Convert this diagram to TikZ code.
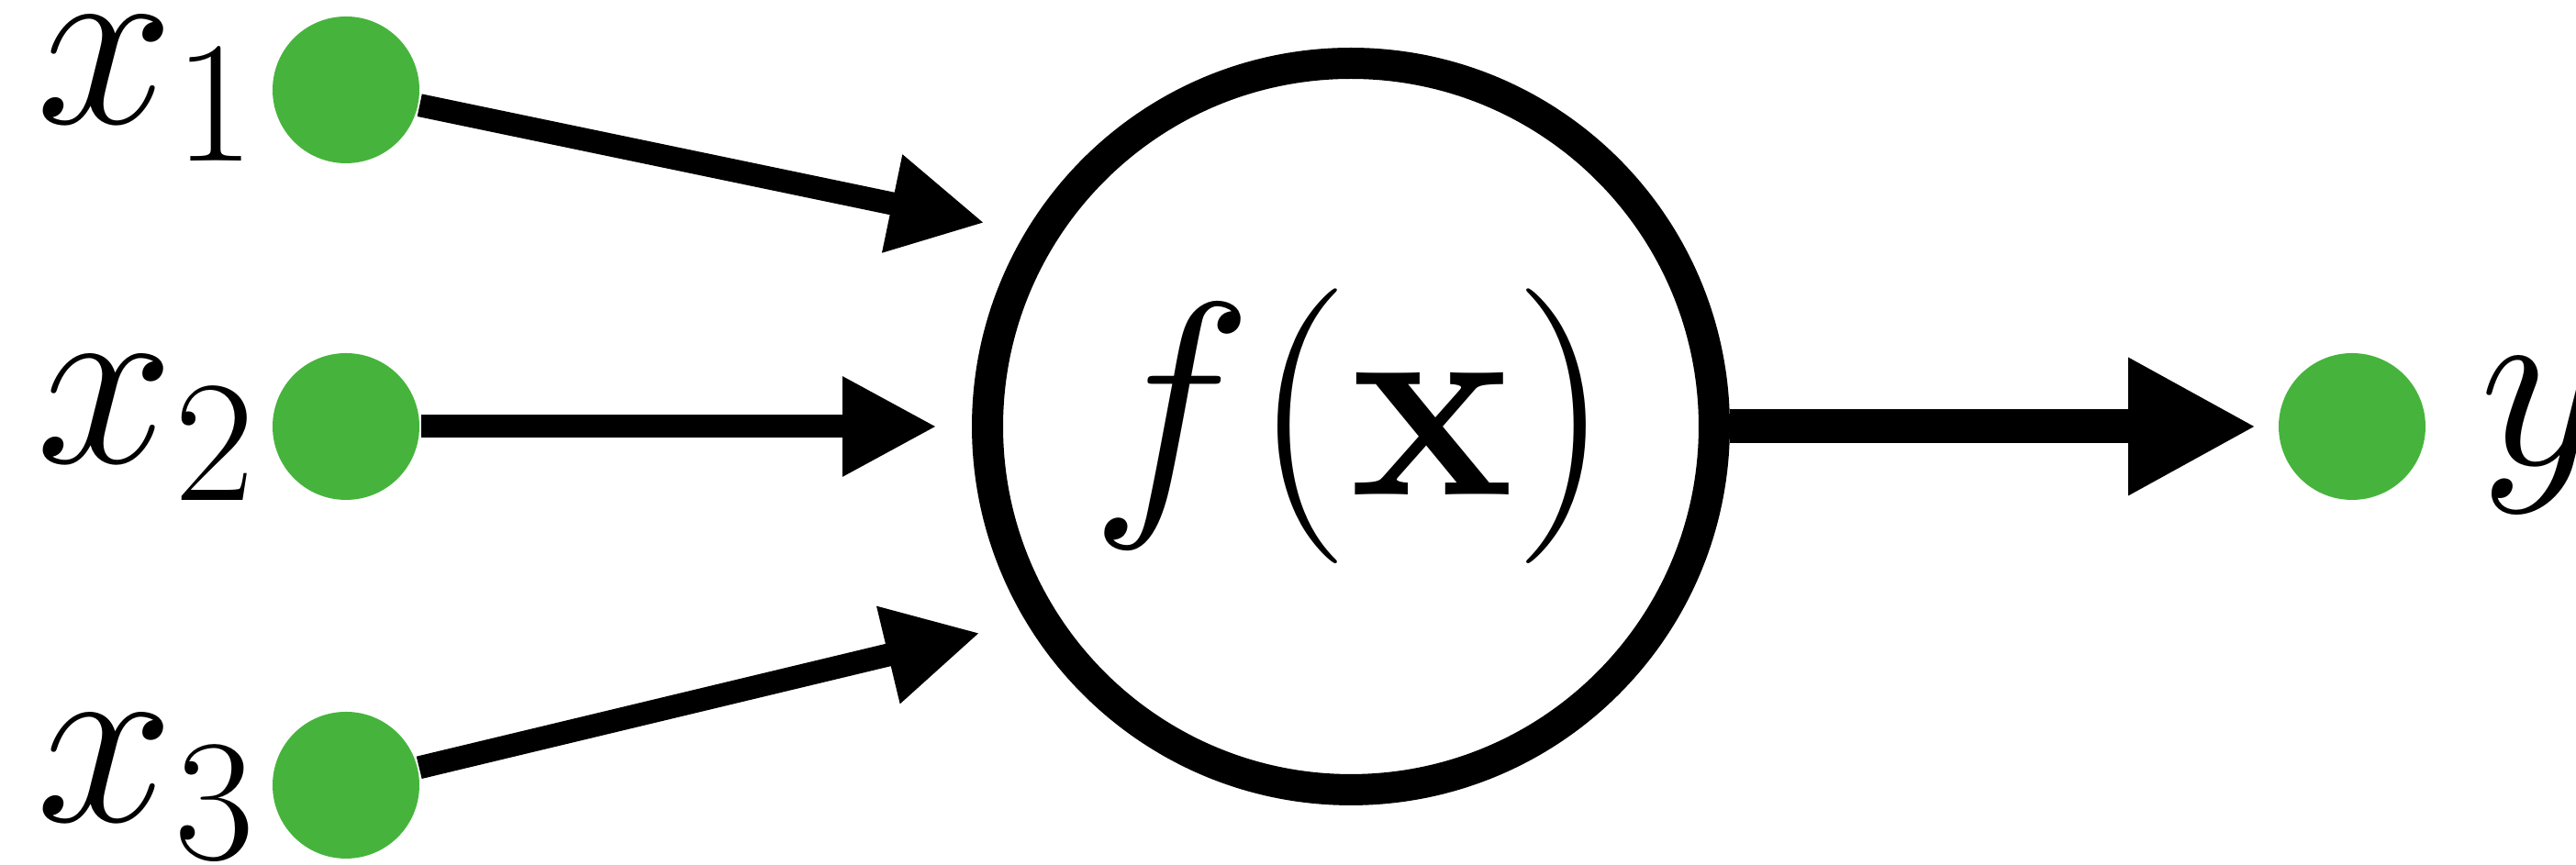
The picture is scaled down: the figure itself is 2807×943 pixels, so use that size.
\RequirePackage{fix-cm}
\documentclass[tikz,border=0pt]{standalone}
\usetikzlibrary{arrows.meta}
\definecolor{ngreen}{RGB}{70,180,60}
\begin{document}
\begin{tikzpicture}[x=0.1pt,y=-0.1pt,
  dot/.style={circle,fill=ngreen,draw=none,minimum size=16pt,inner sep=0pt},
  neuron/.style={circle,draw=black,line width=3.4pt,minimum size=79.2pt,inner sep=0pt,font=\fontsize{30}{30}\selectfont},
  inarrow/.style={line width=2.5pt,-{Triangle[length=10.3pt,width=10.2pt]}},
  outarrow/.style={line width=3.7pt,-{Triangle[length=14pt,width=14pt]}},
  lbl/.style={anchor=base west,inner sep=0pt,font=\fontsize{27}{27}\selectfont}]
\useasboundingbox (0,0) rectangle (2807,943);
\node[neuron] (f) at (1472,465) {$f(\mathbf{x})$};
\coordinate (t1) at (1073,243);
\coordinate (t2) at (1021,465);
\coordinate (t3) at (1068,690);
\node[dot] (g1) at (377,98) {};
\node[dot] (g2) at (377,465) {};
\node[dot] (g3) at (377,856) {};
\node[dot] (gy) at (2563,465) {};
\draw[inarrow] (g1) -- (t1);
\draw[inarrow] (g2) -- (t2);
\draw[inarrow] (g3) -- (t3);
\draw[outarrow,shorten >=2.2pt] (f) -- (gy);
\node[lbl] (l1) at (38,135) {$x_1$};
\node[lbl] (l2) at (38,505) {$x_2$};
\node[lbl] (l3) at (38,896) {$x_3$};
\node[lbl] (ly) at (2700,507) {$y$};
\end{tikzpicture}
\end{document}
